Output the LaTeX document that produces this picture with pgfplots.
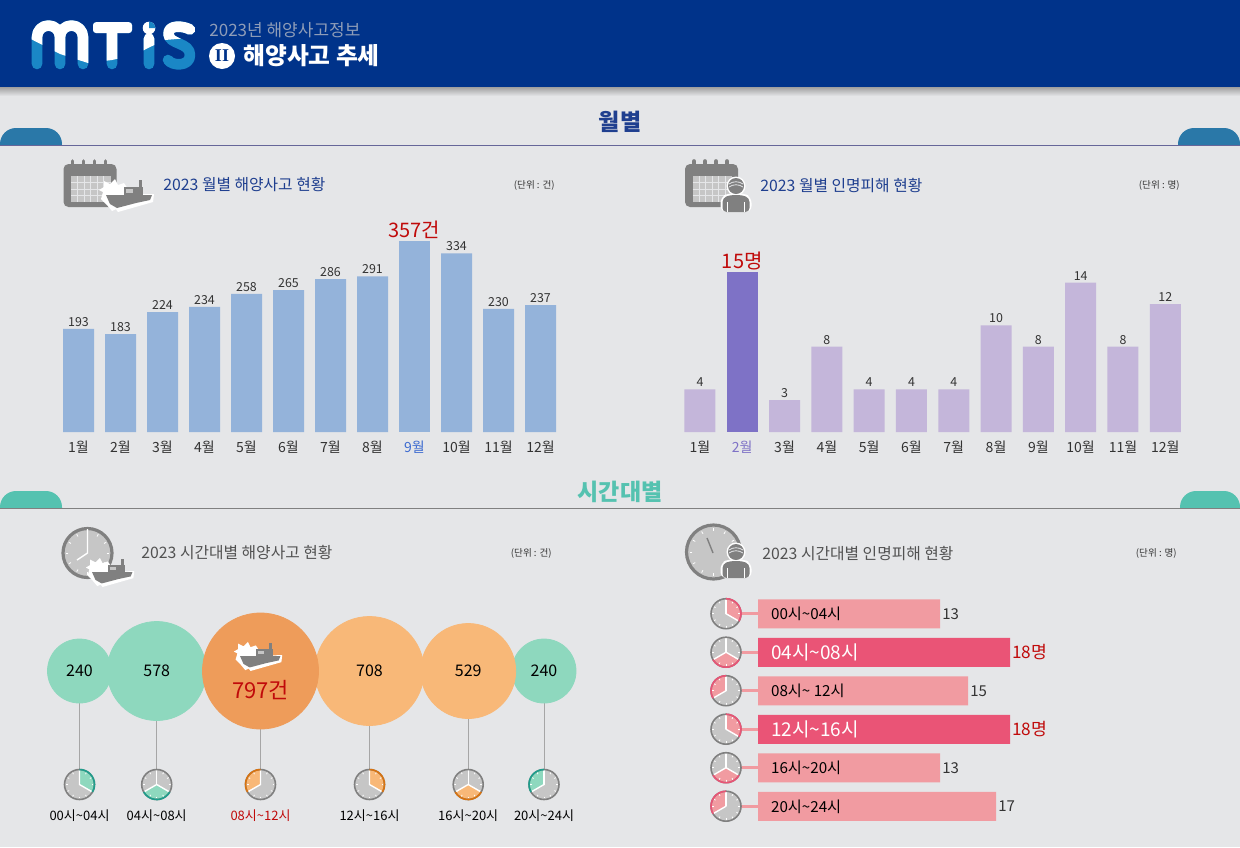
\documentclass[border=0pt]{standalone}
\usepackage{pgfplots}
\pgfplotsset{compat=1.18}
\usepackage{pgfplotstable}
\usepackage{fontspec}
\setmainfont{Noto Sans CJK KR}
\newfontfamily\romanii{Liberation Serif}

% 1 px of the reference = 0.5pt here
\newcommand{\fs}[1]{\fontsize{#1}{#1}\selectfont}
\newcommand{\tl}{\textasciitilde}

\definecolor{bgc}{HTML}{E5E6E8}
\definecolor{navy}{HTML}{00338A}
\definecolor{logoblue}{HTML}{1A87C6}
\definecolor{tabblue}{HTML}{2A78A8}
\definecolor{tabteal}{HTML}{55C2B0}
\definecolor{titleblue}{HTML}{1F3F8F}
\definecolor{headgray}{HTML}{8F9DB8}
\definecolor{txt}{HTML}{333333}
\definecolor{hired}{HTML}{C00A0A}
\definecolor{barblue}{HTML}{94B3DA}
\definecolor{monthblue}{HTML}{3D6BD0}
\definecolor{barlila}{HTML}{C4B6DA}
\definecolor{barpurple}{HTML}{7E72C6}
\definecolor{mint}{HTML}{8ED8BE}
\definecolor{mintd}{HTML}{1E9E8C}
\definecolor{peach}{HTML}{F8B878}
\definecolor{peachd}{HTML}{EE9C5A}
\definecolor{orged}{HTML}{D9730F}
\definecolor{pink}{HTML}{F19BA1}
\definecolor{rose}{HTML}{EA5476}
\definecolor{icong}{HTML}{808080}
\definecolor{iconl}{HTML}{C6C6C6}

% small clock: x, y, radius, start angle, fill, edge
\newcommand{\clockicon}[6]{%
  \begin{scope}[shift={(#1,#2)}]
    \fill[iconl] (0,0) circle (#3);
    \fill[#5] (0,0) -- (#4:#3) arc (#4:#4+120:#3) -- cycle;
    \foreach \a in {0,30,...,330}
      \draw[white,line width=.4pt] (\a:#3*0.8) -- (\a:#3*0.93);
    \draw[white,line width=.7pt] (#4:#3*0.97) -- (0,0) -- (#4+120:#3*0.97);
    \draw[white,line width=.7pt] (0,0) -- (-90:#3*0.97);
    \draw[icong,line width=.8pt] (0,0) circle (#3);
    \draw[#6,line width=.8pt] (#4:#3) arc (#4:#4+120:#3);
  \end{scope}}

% big clock: x, y, radius
\newcommand{\bigclock}[3]{%
  \begin{scope}[shift={(#1,#2)}]
    \fill[iconl] (0,0) circle (#3);
    \draw[icong,line width=1.6pt] (0,0) circle (#3);
    \foreach \a in {0,30,...,330}
      \draw[white,line width=.4pt] (\a:#3*0.78) -- (\a:#3*0.88);
  \end{scope}}

% ship with its white burst: x, y of hull left end, scale
\newcommand{\shipicon}[3]{%
  \begin{scope}[shift={(#1,#2)},scale=#3]
    \fill[white] (-5,4) -- (-3,-3) -- (-7,-5) -- (-2,-8) -- (-2,-14) -- (4,-11) -- (9,-16)
      -- (12,-10) -- (18,-12) -- (24,-3) -- (24,8) -- (6,16) -- (1,10) -- cycle;
    \fill[white] (-1,0) -- (48,-1) -- (47,7) -- (12,17) -- cycle;
    \fill[icong] (0,0) -- (46,0) -- (44,5) -- (30,8) -- (11,13) -- (4,9) -- cycle;
    \fill[icong] (18,-8) rectangle (37,0);
    \fill[icong] (33,-15) rectangle (36,-7);
    \fill[iconl] (20,-6) rectangle (27,-2);
  \end{scope}}

% calendar: x, y of top left corner
\newcommand{\calicon}[2]{%
  \begin{scope}[shift={(#1,#2)}]
    \fill[icong,rounded corners=2.5pt] (0,3) rectangle (53,46);
    \foreach \x in {9,20,31,42}
      \draw[icong,line width=1.8pt,line cap=round] (\x,0) -- (\x,6);
    \fill[iconl] (7.5,15) rectangle (47,41);
    \foreach \x in {14,20.5,27,33.5,40}
      \draw[bgc,line width=.4pt] (\x,15) -- (\x,41);
    \foreach \y in {21.5,28,34.5}
      \draw[bgc,line width=.4pt] (7.5,\y) -- (47,\y);
  \end{scope}}

% person: x, y of head centre
\newcommand{\personicon}[2]{%
  \begin{scope}[shift={(#1,#2)}]
    \fill[white] (0,0) circle (9.5);
    \fill[white,rounded corners=3pt] (-15.5,26) -- (-15.5,11) -- (-7,7) -- (7,7) -- (15.5,11) -- (15.5,26) -- cycle;
    \fill[icong] (0,0) circle (8);
    \draw[bgc,line width=.4pt] (-7,-2) .. controls (-3,-5) and (3,-5) .. (7,-2);
    \draw[bgc,line width=.4pt] (-7,1) .. controls (-3,-2) and (3,-2) .. (7,1);
    \fill[icong,rounded corners=2pt] (-13.5,26) -- (-13.5,12) -- (-6,9) -- (6,9) -- (13.5,12) -- (13.5,26) -- cycle;
    \draw[white,line width=.5pt] (-8.5,26) -- (-8.5,16);
    \draw[white,line width=.5pt] (8.5,26) -- (8.5,16);
  \end{scope}}

% the letters of the logo
\newcommand{\logoletters}[1]{%
  \draw[#1,line width=5.3pt,line cap=round,line join=round]
    (37,64) -- (37,37) arc (180:360:11.5) -- (60,64)
    (60,37) arc (180:360:11.5) -- (83,64)
    (112,64) -- (112,28)
    (149,64) -- (149,38.5)
    (190,29.5) .. controls (184,26) and (168,24) .. (168.5,34)
      .. controls (169,45) and (190,42) .. (190,55)
      .. controls (190,67) and (172,66) .. (168,60);
  \fill[#1,rounded corners=1.5pt] (93,22.2) rectangle (132,33);}

\pgfplotstableread{
x v
0 193
1 183
2 224
3 234
4 258
5 265
6 286
7 291
9 334
10 230
11 237
}\accidents
\pgfplotstableread{
x v
8 357
}\accidentsmax
\pgfplotstableread{
x v
0 4
2 3
3 8
4 4
5 4
6 4
7 10
8 8
9 14
10 8
11 12
}\victims
\pgfplotstableread{
x v
1 15
}\victimsmax
\pgfplotstableread{
x y v r
79.5 113.5 240 32
156.7 113.5 578 49.5
544 113.5 240 32
}\bubblemint
\pgfplotstableread{
x y v r
369.5 113.5 708 54.5
468.2 113.5 529 47.5
}\bubblepeach
\pgfplotstableread{
x y v r
260.5 113.5 797 58
}\bubblemax
\pgfplotstableread{
y v
0 13
2 15
4 13
5 17
}\hours
\pgfplotstableread{
y v
1 18
3 18
}\hoursmax

\pgfplotsset{
  sheet/.style={
    scale only axis, clip=false,
    axis y line=none, axis x line*=bottom,
    x axis line style={draw=none}, major tick length=0pt,
    tick style={draw=none},
    /pgf/number format/assume math mode=true,
    xticklabel style={font=\fs{7},text=txt},
    point meta=y,
  },
  months/.style={
    sheet, ybar, ymin=0, xmin=-0.5, xmax=11.5, xtick={0,...,11},
    x tick label style={yshift=-1pt},
  },
  barvals/.style={bar shift=0pt, bar width=15.5pt, draw=none, fill=#1,
    nodes near coords, nodes near coords style={font=\fs{6.2},text=txt,inner sep=1pt}},
  barmax/.style 2 args={bar shift=0pt, bar width=15.5pt, draw=none, fill=#1,
    nodes near coords={\pgfmathprintnumber\pgfplotspointmeta #2},
    nodes near coords style={font=\fs{10},text=hired,inner sep=1pt}},
  bubble/.style={scatter, only marks, mark=*,
    scatter/use mapped color={draw=#1,fill=#1},
    visualization depends on={\thisrow{r}/2 \as \rr},
    scatter/@pre marker code/.append style={/tikz/mark size=\rr},
    point meta=\thisrow{v}},
  bubbletext/.style={draw=none, mark=none, point meta=\thisrow{v},
    nodes near coords, nodes near coords style={anchor=center,font=\fs{8},text=black}},
  hourbars/.style={scale only axis, clip=false, at={(379pt,-412.85pt)}, anchor=south west,
    width=140pt, height=115.5pt, hide x axis, axis line style={draw=none},
    major tick length=0pt, tick style={draw=none}, ytick pos=left, y dir=reverse,
    /pgf/number format/assume math mode=true,
    xmin=0, xmax=20, ymin=-0.5, ymax=5.5},
}

\begin{document}
\begin{tikzpicture}[x=0.5pt,y=-0.5pt]
\useasboundingbox (0,0) rectangle (1240,847);
\fill[bgc] (0,0) rectangle (1240,847);

% header
\shade[top color=gray!75,bottom color=bgc] (0,87) rectangle (1240,96);
\fill[navy] (0,0) rectangle (1240,87);

% logo
\logoletters{logoblue}
\fill[white] (149,28) circle (6.3);
\begin{scope}
  \clip (25,10) -- (25,36) -- (60,54) -- (88,63) -- (112,60) -- (135,55) -- (148,48) -- (165,40) -- (200,37) -- (200,10) -- cycle;
  \logoletters{white}
\end{scope}
\fill[logoblue] (149,28) -- (149,21.7) arc (-90:0:6.3) -- cycle;

\node[anchor=west,inner sep=0,text=headgray,font=\fs{8.5}] at (209,30) {2023년 해양사고정보};
\fill[white] (222,56) circle (13);
\node[text=navy,font=\fs{9}\romanii\bfseries] at (222,56) {II};
\node[anchor=west,inner sep=0,text=white,font=\fs{11.85}\bfseries] at (243,56) {해양사고 추세};

% section bands
\fill[tabblue,rounded corners=8pt] (0,160) -- (0,128) -- (62,128) -- (62,160) -- cycle;
\fill[tabblue,rounded corners=8pt] (1240,160) -- (1240,128) -- (1178,128) -- (1178,160) -- cycle;
\fill[bgc] (0,145.5) rectangle (1240,165);
\draw[gray!80!blue,line width=.5pt] (0,145.5) -- (1240,145.5);
\node[text=titleblue,font=\fs{11.5}\bfseries] at (620,122) {월별};

\fill[tabteal,rounded corners=8pt] (0,525) -- (0,491) -- (62,491) -- (62,525) -- cycle;
\fill[tabteal,rounded corners=8pt] (1240,525) -- (1240,491) -- (1180,491) -- (1180,525) -- cycle;
\fill[bgc] (0,508.5) rectangle (1240,530);
\draw[gray,line width=.5pt] (0,508.5) -- (1240,508.5);
\node[text=tabteal,font=\fs{11.5}\bfseries] at (620,492) {시간대별};

% icons and panel titles
\calicon{63.5}{161}
\shipicon{106}{195}{1}
\calicon{685}{161}
\personicon{736}{186}
\bigclock{87.5}{553}{24.5}
\draw[white,line width=.7pt] (87.5,529) -- (87.5,553) -- (77,560);
\shipicon{92}{572}{0.88}
\bigclock{713.5}{552}{27}
\draw[icong,line width=.7pt] (707,538) -- (713,553);
\personicon{736}{552}

\node[anchor=west,inner sep=0,text=titleblue,font=\fs{7.9}] at (163,184.5) {2023 월별 해양사고 현황};
\node[anchor=west,inner sep=0,text=titleblue,font=\fs{7.9}] at (760,185.5) {2023 월별 인명피해 현황};
\node[anchor=west,inner sep=0,text=txt!85,font=\fs{7.9}] at (141,552.5) {2023 시간대별 해양사고 현황};
\node[anchor=west,inner sep=0,text=txt!85,font=\fs{7.9}] at (762,553.5) {2023 시간대별 인명피해 현황};
\node[anchor=east,inner sep=0,text=txt,font=\fs{4.8}] at (555,185.5) {(단위 : 건)};
\node[anchor=east,inner sep=0,text=txt,font=\fs{4.8}] at (1180,185.5) {(단위 : 명)};
\node[anchor=east,inner sep=0,text=txt,font=\fs{4.8}] at (552,553.5) {(단위 : 건)};
\node[anchor=east,inner sep=0,text=txt,font=\fs{4.8}] at (1177,553.5) {(단위 : 명)};

% monthly accidents
\begin{axis}[months, at={(28.75pt,-216pt)}, anchor=south west, width=252pt, height=107pt, ymax=400,
  xticklabels={1월,2월,3월,4월,5월,6월,7월,8월,\textcolor{monthblue}{9월},10월,11월,12월}]
\addplot[barvals=barblue] table[x=x,y=v] {\accidents};
\addplot[barmax={barblue}{건}] table[x=x,y=v] {\accidentsmax};
\end{axis}

% monthly victims
\begin{axis}[months, at={(339.4pt,-216pt)}, anchor=south west, width=253.8pt, height=96pt, ymax=18,
  xticklabels={1월,\textcolor{barpurple}{2월},3월,4월,5월,6월,7월,8월,9월,10월,11월,12월}]
\addplot[barvals=barlila] table[x=x,y=v] {\victims};
\addplot[barmax={barpurple}{명}] table[x=x,y=v] {\victimsmax};
\end{axis}

% accidents by time of day
\begin{axis}[sheet, at={(0pt,-392.25pt)}, anchor=south west, width=310pt, height=100pt,
  xmin=0, xmax=620, ymin=0, ymax=200,
  xtick={79.5,156.7,260.5,369.5,468.2,544},
  x tick label style={yshift=-9pt},
  xticklabel style={font=\fs{6.5},text=black},
  xticklabels={00시\tl04시,04시\tl08시,\textcolor{hired}{08시\tl12시},12시\tl16시,16시\tl20시,20시\tl24시}]
\addplot[ycomb,gray!70,line width=.4pt,forget plot] table[x=x,y=y] {\bubblemint};
\addplot[ycomb,gray!70,line width=.4pt,forget plot] table[x=x,y=y] {\bubblepeach};
\addplot[ycomb,gray!70,line width=.4pt,forget plot] table[x=x,y=y] {\bubblemax};
\addplot[bubble=mint] table[x=x,y=y] {\bubblemint};
\addplot[bubble=peach] table[x=x,y=y] {\bubblepeach};
\addplot[bubble=peachd] table[x=x,y=y] {\bubblemax};
\addplot[bubbletext] table[x=x,y=y] {\bubblemint};
\addplot[bubbletext] table[x=x,y=y] {\bubblepeach};
\addplot[bubbletext, nodes near coords={\pgfmathprintnumber\pgfplotspointmeta 건},
  nodes near coords style={font=\fs{11},text=hired,yshift=-9.5pt}] table[x=x,y=y] {\bubblemax};
\end{axis}
\shipicon{240}{656}{0.88}

\clockicon{79.5}{784.5}{15}{-90}{mint}{mintd}
\clockicon{156.7}{784.5}{15}{30}{mint}{mintd}
\clockicon{260.5}{784.5}{15}{150}{peach}{orged}
\clockicon{369.5}{784.5}{15}{-90}{peach}{orged}
\clockicon{468.2}{784.5}{15}{30}{peach}{orged}
\clockicon{544}{784.5}{15}{150}{mint}{mintd}

% victims by time of day
\foreach \y in {613.7,652.2,690.7,729.2,767.7,806.2}
  \draw[pink,line width=1.5pt] (735,\y) -- (758,\y);
\begin{axis}[hourbars, xbar, ytick=\empty, point meta=x]
\addplot[bar shift=0pt, bar width=14.5pt, draw=none, fill=pink, nodes near coords,
  nodes near coords style={font=\fs{7.5},text=txt,inner sep=1pt}] table[x=v,y=y] {\hours};
\addplot[bar shift=0pt, bar width=14.5pt, draw=none, fill=rose,
  nodes near coords={\pgfmathprintnumber\pgfplotspointmeta 명},
  nodes near coords style={font=\fs{8.6},text=hired,inner sep=1pt}] table[x=v,y=y] {\hoursmax};
\end{axis}
% second axis, only for the names that stand on the bars
\begin{axis}[hourbars, ytick={0,...,5},
  yticklabel style={anchor=west,xshift=3pt,font=\fs{7.6},text=black},
  yticklabels={00시\tl04시,{\fs{9.5}\textcolor{white}{04시\tl08시}},08시\tl\ 12시,{\fs{9.5}\textcolor{white}{12시\tl16시}},16시\tl20시,20시\tl24시}]
\end{axis}

\clockicon{726}{613.7}{15}{-90}{pink}{rose}
\clockicon{726}{652.2}{15}{30}{pink}{rose}
\clockicon{726}{690.7}{15}{150}{pink}{rose}
\clockicon{726}{729.2}{15}{-90}{pink}{rose}
\clockicon{726}{767.7}{15}{30}{pink}{rose}
\clockicon{726}{806.2}{15}{150}{pink}{rose}
\end{tikzpicture}
\end{document}
